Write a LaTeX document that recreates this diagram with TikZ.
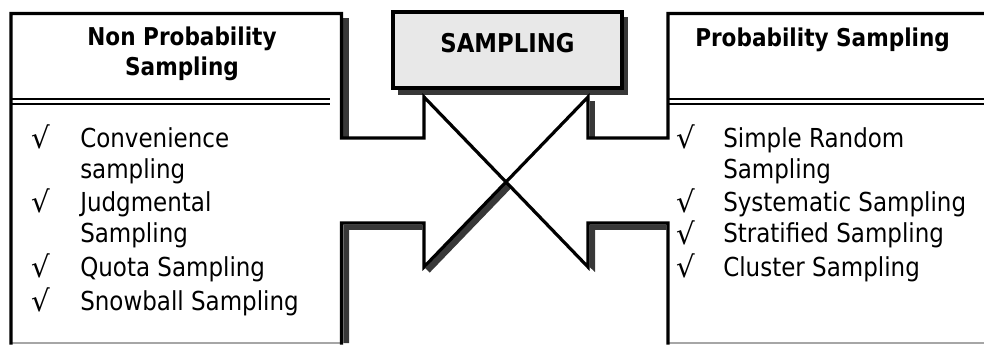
\documentclass[tikz,border=0pt]{standalone}
\usepackage{fontspec}
\setmainfont{DejaVu Sans}[FakeStretch=0.88]
\newfontfamily\tickfont{DejaVu Sans}
\begin{document}
\begin{tikzpicture}[x=0.75pt,y=-0.75pt,
  outline/.style={line width=2.4pt, line join=miter, line cap=rect},
  shadowfill/.style={fill=black!78},
  dbl/.style={line width=1.25pt},
  txt/.style={inner sep=0pt, font=\fontsize{19.6}{24}\selectfont},
  item/.style={txt, anchor=base west},
  tick/.style={inner sep=0pt, anchor=base west, font=\tickfont\fontsize{22}{24}\selectfont},
  head/.style={inner sep=0pt, font=\fontsize{18.4}{24}\selectfont\bfseries},
]
\useasboundingbox (0,0) rectangle (984,345);

% named corner points of the two frames and the crossing
\coordinate (ltl) at (11,13.5);
\coordinate (ltr) at (341.5,13.5);
\coordinate (lstep) at (341.5,138);
\coordinate (lstepin) at (424,138);
\coordinate (lx) at (424,97);
\coordinate (rx) at (588,97);
\coordinate (rstepin) at (588,138);
\coordinate (rstep) at (668,138);
\coordinate (rtr) at (668,13.5);
\coordinate (rtrr) at (986,13.5);
\coordinate (lend) at (424,267);
\coordinate (rend) at (588,267);
\coordinate (llow) at (424,223);
\coordinate (rlow) at (588,223);
\coordinate (lbox) at (341.5,223);
\coordinate (rbox) at (668,223);
\coordinate (lbot) at (11,343);
\coordinate (lbotr) at (341.5,343);
\coordinate (rbot) at (668,343);
\coordinate (rbotr) at (984,343);
\coordinate (cross) at (506,182);

% shadows
\fill[shadowfill] (343.3,18) rectangle (349,136.6);
\fill[shadowfill] (398,17) rectangle (628,95);
\fill[shadowfill] (589.6,101) rectangle (595,136.6);
\fill[shadowfill] (343.3,224.7) -- (422.3,224.7) -- (422.3,230) -- (349,230) -- (349,343) -- (343.3,343) -- cycle;
\fill[shadowfill] (cross) -- (425.1,268) -- (429.7,272.6) -- (511.7,187.6) -- cycle;
\fill[shadowfill] (589.6,224.7) -- (666.4,224.7) -- (666.4,230) -- (595,230) -- (595,272) -- (589.6,267) -- cycle;

% bottom edges of the two boxes
\draw[black!35, line width=0.9pt] (lbot) -- (lbotr);
\draw[black!35, line width=0.9pt] (rbot) -- (rbotr);

% the two frames crossing in the middle
\draw[outline] (lbot) -- (ltl) -- (ltr) -- (lstep) -- (lstepin) -- (lx) -- (rend) -- (rlow) -- (rbox) -- (rbot);
\draw[outline] (rtrr) -- (rtr) -- (rstep) -- (rstepin) -- (rx) -- (lend) -- (llow) -- (lbox) -- (lbotr);

% double rules under the headings
\draw[dbl] (11,99) -- (330,99);
\draw[line width=1.05pt] (11,104) -- (330,104);
\draw[dbl] (668,99) -- (984,99);
\draw[line width=1.05pt] (668,104) -- (984,104);

% central title box
\draw[outline, fill=black!9] (393,12) rectangle (622,88);
\node[head, anchor=base, font=\fontsize{19.4}{24}\selectfont\bfseries] (title) at (507.5,53) {SAMPLING};

% headings
\node[head, anchor=base] (nph1) at (182,46) {Non Probability};
\node[head, anchor=base] (nph2) at (182,76) {Sampling};
\node[head, anchor=base west] (ph) at (695,47) {Probability Sampling};

% left list
\node[tick] (lc1) at (31,149) {√};
\node[item] (li1) at (80,148) {Convenience};
\node[item] (li1b) at (80,179) {sampling};
\node[tick] (lc2) at (31,213) {√};
\node[item] (li2) at (80,212) {Judgmental};
\node[item] (li2b) at (80,243) {Sampling};
\node[tick] (lc3) at (31,277) {√};
\node[item] (li3) at (80,276) {Quota Sampling};
\node[tick] (lc4) at (31,311) {√};
\node[item] (li4) at (80,310) {Snowball Sampling};

% right list
\node[tick] (rc1) at (676,149) {√};
\node[item] (ri1) at (723,148) {Simple Random};
\node[item] (ri1b) at (723,179) {Sampling};
\node[tick] (rc2) at (676,213) {√};
\node[item] (ri2) at (723,212) {Systematic Sampling};
\node[tick] (rc3) at (676,244) {√};
\node[item] (ri3) at (723,243) {Stratified Sampling};
\node[tick] (rc4) at (676,277) {√};
\node[item] (ri4) at (723,276) {Cluster Sampling};
\end{tikzpicture}
\end{document}
